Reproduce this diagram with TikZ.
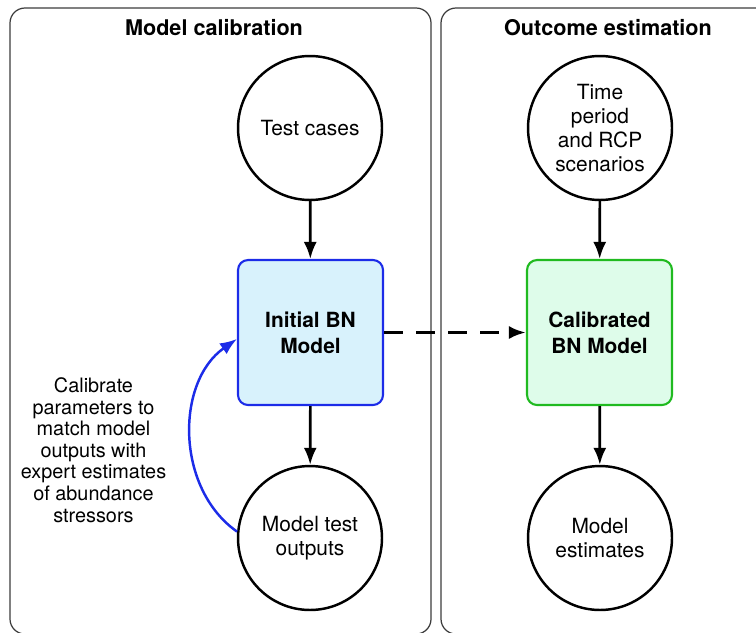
\documentclass[tikz,border=0pt]{standalone}
\usepackage{fontspec}
\setmainfont{TeX Gyre Heros}
\usetikzlibrary{arrows.meta}
\tikzset{>={Latex[length=3.4mm,width=2.6mm]}}
\definecolor{bnblue}{RGB}{28,44,232}
\definecolor{bnbluefill}{RGB}{216,242,252}
\definecolor{bngreen}{RGB}{32,186,32}
\definecolor{bngreenfill}{RGB}{222,252,234}
\definecolor{panelgray}{RGB}{60,60,60}

\begin{document}
\begin{tikzpicture}[x=0.02cm,y=-0.02cm,
  every node/.style={font=\fontsize{11.9}{13.6}\selectfont, align=center},
  circ/.style = {draw, circle, line width=1.4pt, minimum size=2.88cm, inner sep=0pt},
  bnbox/.style = {draw, rounded corners=0.2cm, line width=1.2pt, minimum size=2.9cm, inner sep=0pt,
                  font=\fontsize{11.9}{14.8}\selectfont\bfseries},
  panel/.style = {draw=panelgray, line width=0.7pt, rounded corners=0.3cm},
  title/.style = {font=\fontsize{12.3}{14}\selectfont\bfseries}]
\clip (0,0) rectangle (756,632);
% panels
\draw[panel] (10,8) rectangle (431,634);
\draw[panel] (441,8) rectangle (790,634);
\node[title] (t1) at (214,28) {Model calibration};
\node[title] (t2) at (608,28) {Outcome estimation};
% left column
\node[circ] (tc) at (310,128) {Test cases};
\node[bnbox,draw=bnblue,fill=bnbluefill] (ibn) at (310.5,332.5) {Initial BN\\Model};
\node[circ] (mto) at (310,538) {Model test\\outputs};
% right column
\node[circ] (tp) at (600,128) {Time\\period\\and RCP\\scenarios};
\node[bnbox,draw=bngreen,fill=bngreenfill] (cbn) at (599.5,332.5) {Calibrated\\BN Model};
\node[circ] (me) at (600,538) {Model\\estimates};
\node[font=\fontsize{11.3}{12.3}\selectfont] (cal) at (93.5,450) {Calibrate\\parameters to\\match model\\outputs with\\expert estimates\\of abundance\\stressors};
\draw[line width=1.5pt,->] (tc) to (ibn);
\draw[line width=1.5pt,->] (ibn) to (mto);
\draw[line width=1.5pt,->] (tp) to (cbn);
\draw[line width=1.5pt,->] (cbn) to (me);
\draw[line width=1.9pt,->,dash pattern=on 0.38cm off 0.26cm] (ibn) to (cbn);
\draw[line width=1.4pt,->,bnblue] (mto.175) to[out=145,in=215,looseness=1.0] (ibn.185);
\end{tikzpicture}
\end{document}
